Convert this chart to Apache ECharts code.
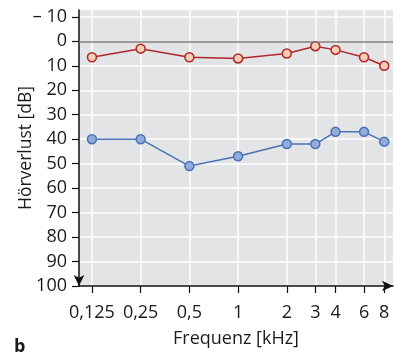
<!DOCTYPE html>
<html>
<head>
<meta charset="utf-8">
<script src="https://cdn.jsdelivr.net/npm/echarts@6/dist/echarts.min.js"></script>
<style>
  html, body { margin: 0; padding: 0; background: #fff; }
  #audiogramm { width: 395px; height: 353px; }
</style>
</head>
<body>
<div id="audiogramm"></div>
<script>
// Frequenzen in kHz
var frequenzen = [0.125, 0.25, 0.5, 1, 2, 3, 4, 6, 8];
// Hörverlust in dB (oben: rot, unten: blau)
var kurveRot = [6.5, 3, 6.5, 7, 5, 2, 3.5, 6.5, 10];
var kurveBlau = [40, 40, 51, 47, 42, 42, 37, 37, 41];
var dbTicks = [-10, 0, 10, 20, 30, 40, 50, 60, 70, 80, 90, 100];

var schrift = '"Open Sans", "Noto Sans", sans-serif';

function paare(werte) {
    return frequenzen.map(function (f, i) { return [f, werte[i]]; });
}

var myChart = echarts.init(document.getElementById('audiogramm'));
var option = {
    animation: false,
    textStyle: { fontFamily: schrift },
    title: {
        text: 'b',
        left: 9,
        top: 333,
        textStyle: { fontFamily: schrift, fontSize: 18, fontWeight: 'bold', color: '#1a1a1a' }
    },
    grid: {
        left: 79, right: 2, top: 10, bottom: 67,
        show: true,
        backgroundColor: '#e3e4e6',
        borderWidth: 0
    },
    xAxis: {
        type: 'log',
        logBase: 2,
        min: 0.104,
        max: 9.06,
        name: 'Frequenz [kHz]',
        nameLocation: 'middle',
        nameGap: 44,
        nameMoveOverlap: false,
        nameTextStyle: { fontSize: 18, color: '#1a1a1a' },
        axisLine: {
            show: true,
            onZero: false,
            symbol: ['none', 'arrow'],
            symbolSize: [8, 11],
            lineStyle: { color: '#111', width: 1.5 }
        },
        axisTick: {
            show: true, length: 7, inside: false,
            customValues: frequenzen,
            lineStyle: { color: '#111', width: 1.2 }
        },
        axisLabel: {
            customValues: frequenzen,
            margin: 18,
            fontSize: 18,
            color: '#1a1a1a',
            formatter: function (v) { return String(v).replace('.', ','); }
        },
        splitLine: { show: true, lineStyle: { color: '#ffffff', width: 1.5 } }
    },
    yAxis: {
        type: 'value',
        inverse: true,
        min: -12.8,
        max: 100,
        name: 'Hörverlust [dB]',
        nameLocation: 'middle',
        nameGap: 44,
        nameMoveOverlap: false,
        nameTextStyle: { fontSize: 17.5, color: '#1a1a1a' },
        axisLine: {
            show: true,
            onZero: false,
            symbol: ['arrow', 'none'],
            symbolSize: [8, 11],
            lineStyle: { color: '#111', width: 1.5 }
        },
        axisTick: {
            show: true, length: 7, inside: false,
            customValues: dbTicks,
            lineStyle: { color: '#111', width: 1.2 }
        },
        axisLabel: {
            customValues: dbTicks,
            margin: 12,
            fontSize: 18,
            color: '#1a1a1a',
            formatter: function (v) { return v === -10 ? '– 10' : String(v); }
        },
        splitLine: { show: true, lineStyle: { color: '#ffffff', width: 1.5 } }
    },
    series: [
        {
            name: 'rot',
            type: 'line',
            data: paare(kurveRot),
            symbol: 'circle',
            symbolSize: 9,
            lineStyle: { color: '#b3262c', width: 1.5 },
            itemStyle: { color: '#f6cdb5', borderColor: '#b3262c', borderWidth: 1.5 },
            markLine: {
                silent: true,
                symbol: 'none',
                label: { show: false },
                lineStyle: { color: '#7b7b7b', width: 1.5, type: 'solid' },
                data: [{ yAxis: 0 }]
            },
            z: 3
        },
        {
            name: 'blau',
            type: 'line',
            data: paare(kurveBlau),
            symbol: 'circle',
            symbolSize: 9,
            lineStyle: { color: '#4b72b8', width: 1.5 },
            itemStyle: { color: '#94acd9', borderColor: '#4b72b8', borderWidth: 1.5 },
            z: 3
        }
    ]
};
myChart.setOption(option);
</script>
</body>
</html>
